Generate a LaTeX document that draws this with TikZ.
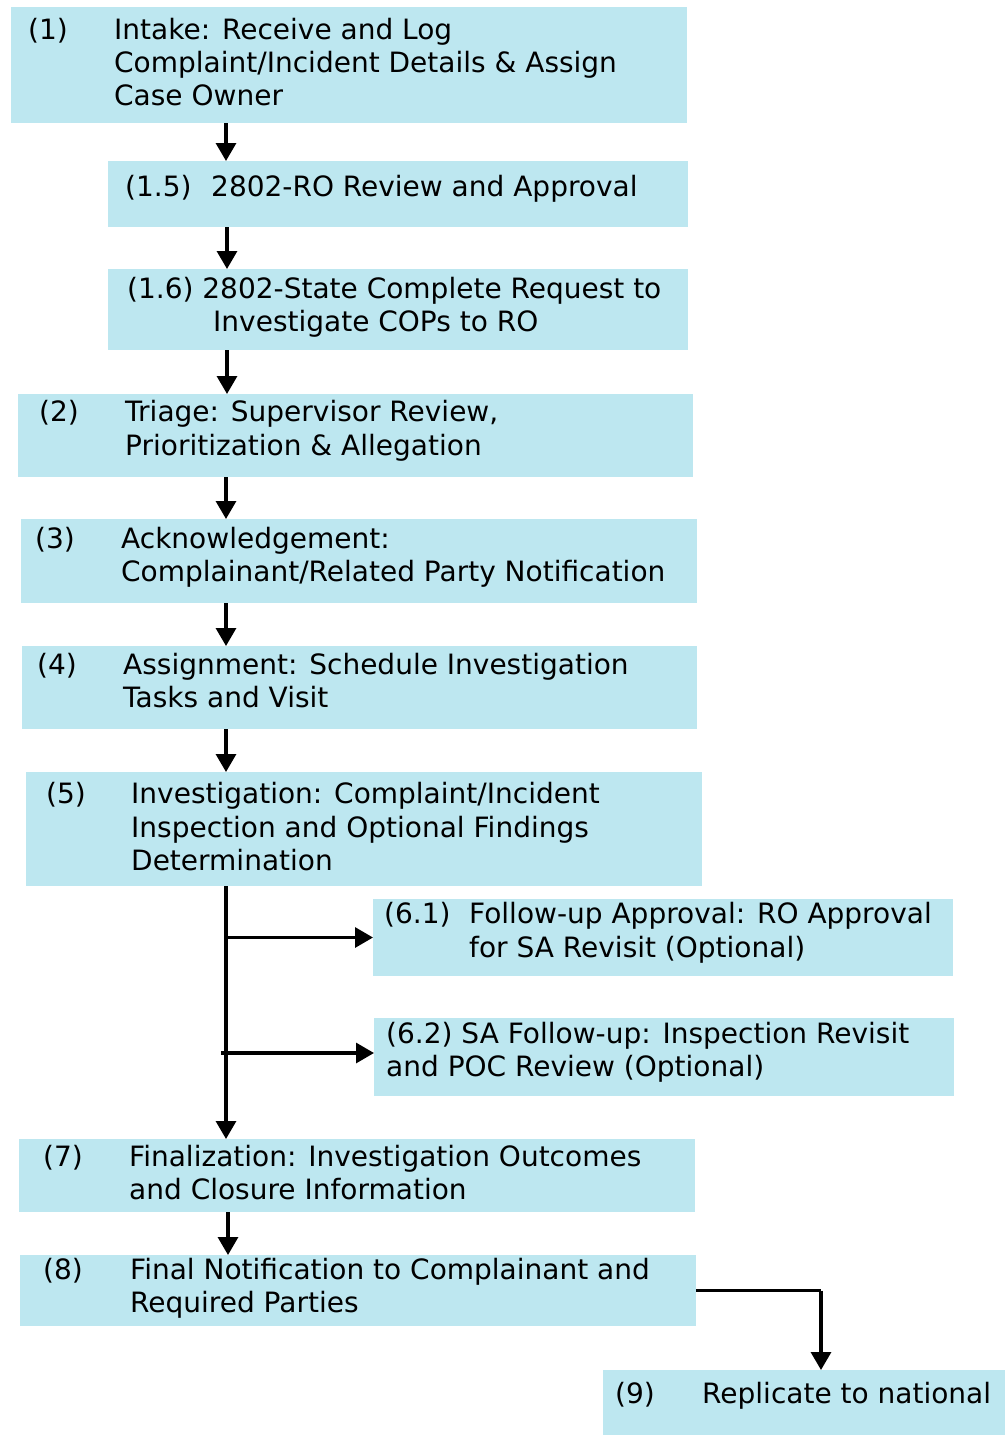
\documentclass[tikz,border=0pt]{standalone}
\usepackage{fontspec}
\setmainfont{DejaVu Sans}
\usetikzlibrary{arrows.meta}
\definecolor{boxblue}{RGB}{189,231,240}
\begin{document}
\begin{tikzpicture}[x=1pt,y=-1pt,
  box/.style={fill=boxblue, draw=none, inner sep=0pt, outer sep=0pt},
  txt/.style={anchor=base west, inner sep=0pt, font=\fontsize{28}{33}\selectfont},
  arr/.style={line width=3.2pt, -{Triangle[length=18pt,width=20pt]}},
  ln/.style={line width=3.2pt}]
\useasboundingbox (0,0) rectangle (1005,1435);
% boxes
\node[box, minimum width=676pt, minimum height=116pt] (b1)  at (349,65) {};
\node[box, minimum width=580pt, minimum height=66pt]  (b15) at (398,194) {};
\node[box, minimum width=580pt, minimum height=81pt]  (b16) at (398,309.5) {};
\node[box, minimum width=675pt, minimum height=83pt]  (b2)  at (355.5,435.5) {};
\node[box, minimum width=676pt, minimum height=84pt]  (b3)  at (359,561) {};
\node[box, minimum width=675pt, minimum height=83pt]  (b4)  at (359.5,687.5) {};
\node[box, minimum width=676pt, minimum height=114pt] (b5)  at (364,829) {};
\node[box, minimum width=580pt, minimum height=77pt]  (b61) at (663,937.5) {};
\node[box, minimum width=580pt, minimum height=78pt]  (b62) at (664,1057) {};
\node[box, minimum width=676pt, minimum height=73pt]  (b7)  at (357,1175.5) {};
\node[box, minimum width=676pt, minimum height=71pt]  (b8)  at (358,1290.5) {};
\node[box, minimum width=402pt, minimum height=65pt]  (b9)  at (804,1402.5) {};
% texts
\node[txt] (t1n) at (28,39) {(1)};
\node[txt] (t1a) at (114,39) {Intake: Receive and Log};
\node[txt] (t1b) at (114,72) {Complaint/Incident Details \& Assign};
\node[txt] (t1c) at (114,105) {Case Owner};
\node[txt] (t15n) at (125,196) {(1.5)};
\node[txt] (t15a) at (211,196) {2802-RO Review and Approval};
\node[txt] (t16a) at (127,298) {(1.6) 2802-State Complete Request to};
\node[txt] (t16b) at (213,331) {Investigate COPs to RO};
\node[txt] (t2n) at (39,421) {(2)};
\node[txt] (t2a) at (125,421) {Triage: Supervisor Review,};
\node[txt] (t2b) at (125,455) {Prioritization \& Allegation};
\node[txt] (t3n) at (35,548) {(3)};
\node[txt] (t3a) at (121,548) {Acknowledgement:};
\node[txt] (t3b) at (121,581) {Complainant/Related Party Notification};
\node[txt] (t4n) at (37,674) {(4)};
\node[txt] (t4a) at (123,674) {Assignment: Schedule Investigation};
\node[txt] (t4b) at (123,707) {Tasks and Visit};
\node[txt] (t5n) at (46,803) {(5)};
\node[txt] (t5a) at (131,803) {Investigation: Complaint/Incident};
\node[txt] (t5b) at (131,837) {Inspection and Optional Findings};
\node[txt] (t5c) at (131,870) {Determination};
\node[txt] (t61n) at (384,923) {(6.1)};
\node[txt] (t61a) at (469,923) {Follow-up Approval: RO Approval};
\node[txt] (t61b) at (469,957) {for SA Revisit (Optional)};
\node[txt] (t62a) at (386,1043) {(6.2) SA Follow-up: Inspection Revisit};
\node[txt] (t62b) at (386,1076) {and POC Review (Optional)};
\node[txt] (t7n) at (43,1166) {(7)};
\node[txt] (t7a) at (129,1166) {Finalization: Investigation Outcomes};
\node[txt] (t7b) at (129,1199) {and Closure Information};
\node[txt] (t8n) at (43,1279) {(8)};
\node[txt] (t8a) at (130,1279) {Final Notification to Complainant and};
\node[txt] (t8b) at (130,1312) {Required Parties};
\node[txt] (t9n) at (615,1403) {(9)};
\node[txt] (t9a) at (702,1403) {Replicate to national};
% column coordinates
\coordinate (xa) at (226,0);
\coordinate (xb) at (227,0);
\coordinate (xc) at (228,0);
\coordinate (xe) at (221,0);
\coordinate (xd) at (821,0);
% connectors
\draw[arr] (b1.south -| xa) -- (b15.north -| xa);
\draw[arr] (b15.south -| xb) -- (b16.north -| xb);
\draw[arr] (b16.south -| xb) -- (b2.north -| xb);
\draw[arr] (b2.south -| xa) -- (b3.north -| xa);
\draw[arr] (b3.south -| xa) -- (b4.north -| xa);
\draw[arr] (b4.south -| xa) -- (b5.north -| xa);
\draw[arr] (b5.south -| xa) -- (b7.north -| xa);
\draw[arr] (b61.west -| xa) -- (b61.west);
\draw[arr] ([yshift=4pt]b62.west -| xe) -- ([yshift=4pt]b62.west);
\draw[arr] (b7.south -| xc) -- (b8.north -| xc);
\draw[ln] (b8.east) -- (b8.east -| xd);
\draw[arr] (b8.east -| xd) -- (b9.north -| xd);
\end{tikzpicture}
\end{document}
